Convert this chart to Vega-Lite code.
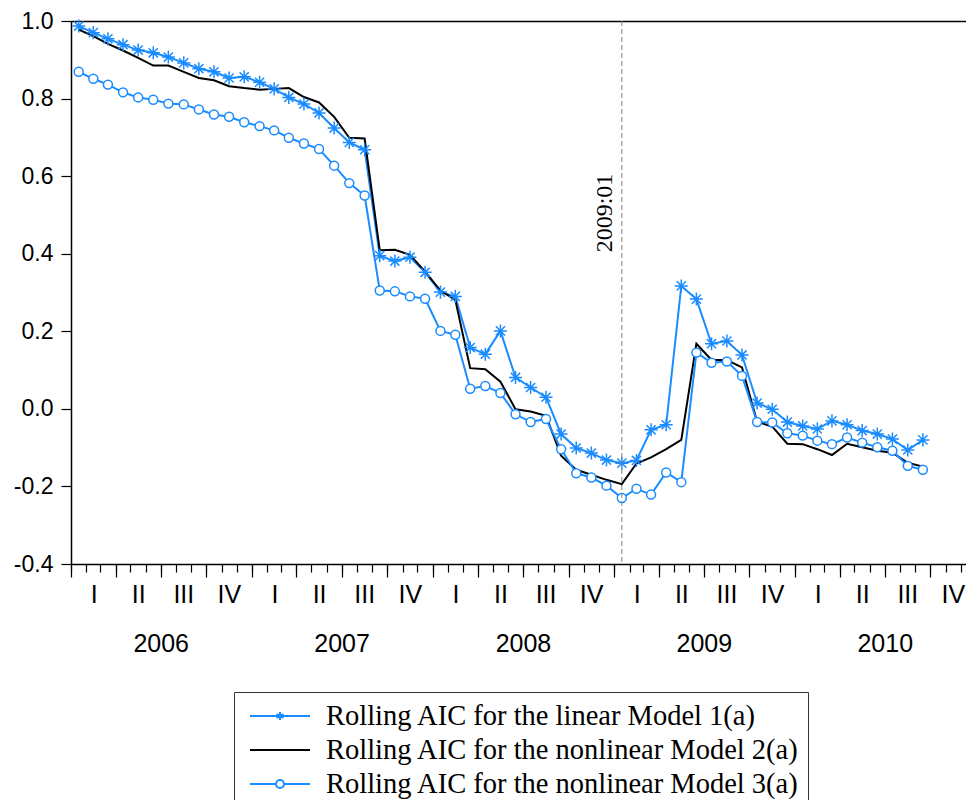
{
  "$schema": "https://vega.github.io/schema/vega-lite/v6.json",
  "width": 895,
  "height": 543,
  "autosize": {"type": "none"},
  "padding": {"left": 71, "top": 21, "right": 0, "bottom": 236},
  "background": "white",
  "datasets": {
    "marker": [{"date": "2009-01", "label": "2009:01"}]
  },
  "data": {
    "values": [
      {"date": "2006-01", "m1": 0.987, "m2": 0.978, "m3": 0.869},
      {"date": "2006-02", "m1": 0.970, "m2": 0.961, "m3": 0.851},
      {"date": "2006-03", "m1": 0.954, "m2": 0.941, "m3": 0.836},
      {"date": "2006-04", "m1": 0.939, "m2": 0.924, "m3": 0.816},
      {"date": "2006-05", "m1": 0.925, "m2": 0.905, "m3": 0.803},
      {"date": "2006-06", "m1": 0.918, "m2": 0.885, "m3": 0.797},
      {"date": "2006-07", "m1": 0.907, "m2": 0.885, "m3": 0.787},
      {"date": "2006-08", "m1": 0.892, "m2": 0.869, "m3": 0.785},
      {"date": "2006-09", "m1": 0.877, "m2": 0.853, "m3": 0.772},
      {"date": "2006-10", "m1": 0.869, "m2": 0.847, "m3": 0.759},
      {"date": "2006-11", "m1": 0.853, "m2": 0.832, "m3": 0.753},
      {"date": "2006-12", "m1": 0.856, "m2": 0.827, "m3": 0.739},
      {"date": "2007-01", "m1": 0.842, "m2": 0.823, "m3": 0.729},
      {"date": "2007-02", "m1": 0.825, "m2": 0.825, "m3": 0.718},
      {"date": "2007-03", "m1": 0.803, "m2": 0.827, "m3": 0.699},
      {"date": "2007-04", "m1": 0.786, "m2": 0.804, "m3": 0.684},
      {"date": "2007-05", "m1": 0.763, "m2": 0.790, "m3": 0.670},
      {"date": "2007-06", "m1": 0.724, "m2": 0.753, "m3": 0.627},
      {"date": "2007-07", "m1": 0.687, "m2": 0.699, "m3": 0.582},
      {"date": "2007-08", "m1": 0.668, "m2": 0.697, "m3": 0.550},
      {"date": "2007-09", "m1": 0.395, "m2": 0.409, "m3": 0.305},
      {"date": "2007-10", "m1": 0.381, "m2": 0.410, "m3": 0.303},
      {"date": "2007-11", "m1": 0.391, "m2": 0.397, "m3": 0.290},
      {"date": "2007-12", "m1": 0.352, "m2": 0.354, "m3": 0.284},
      {"date": "2008-01", "m1": 0.301, "m2": 0.305, "m3": 0.201},
      {"date": "2008-02", "m1": 0.290, "m2": 0.281, "m3": 0.191},
      {"date": "2008-03", "m1": 0.158, "m2": 0.105, "m3": 0.052},
      {"date": "2008-04", "m1": 0.141, "m2": 0.102, "m3": 0.059},
      {"date": "2008-05", "m1": 0.201, "m2": 0.070, "m3": 0.041},
      {"date": "2008-06", "m1": 0.081, "m2": -0.001, "m3": -0.014},
      {"date": "2008-07", "m1": 0.055, "m2": -0.007, "m3": -0.034},
      {"date": "2008-08", "m1": 0.030, "m2": -0.018, "m3": -0.026},
      {"date": "2008-09", "m1": -0.065, "m2": -0.121, "m3": -0.104},
      {"date": "2008-10", "m1": -0.101, "m2": -0.157, "m3": -0.166},
      {"date": "2008-11", "m1": -0.114, "m2": -0.170, "m3": -0.177},
      {"date": "2008-12", "m1": -0.132, "m2": -0.183, "m3": -0.198},
      {"date": "2009-01", "m1": -0.140, "m2": -0.194, "m3": -0.230},
      {"date": "2009-02", "m1": -0.133, "m2": -0.141, "m3": -0.206},
      {"date": "2009-03", "m1": -0.054, "m2": -0.125, "m3": -0.221},
      {"date": "2009-04", "m1": -0.041, "m2": -0.104, "m3": -0.164},
      {"date": "2009-05", "m1": 0.317, "m2": -0.080, "m3": -0.189},
      {"date": "2009-06", "m1": 0.283, "m2": 0.168, "m3": 0.145},
      {"date": "2009-07", "m1": 0.168, "m2": 0.126, "m3": 0.119},
      {"date": "2009-08", "m1": 0.175, "m2": 0.126, "m3": 0.122},
      {"date": "2009-09", "m1": 0.139, "m2": 0.107, "m3": 0.085},
      {"date": "2009-10", "m1": 0.015, "m2": -0.033, "m3": -0.034},
      {"date": "2009-11", "m1": -0.001, "m2": -0.046, "m3": -0.035},
      {"date": "2009-12", "m1": -0.034, "m2": -0.090, "m3": -0.063},
      {"date": "2010-01", "m1": -0.044, "m2": -0.091, "m3": -0.069},
      {"date": "2010-02", "m1": -0.052, "m2": -0.104, "m3": -0.082},
      {"date": "2010-03", "m1": -0.031, "m2": -0.119, "m3": -0.091},
      {"date": "2010-04", "m1": -0.041, "m2": -0.090, "m3": -0.074},
      {"date": "2010-05", "m1": -0.056, "m2": -0.099, "m3": -0.087},
      {"date": "2010-06", "m1": -0.065, "m2": -0.108, "m3": -0.099},
      {"date": "2010-07", "m1": -0.078, "m2": -0.113, "m3": -0.108},
      {"date": "2010-08", "m1": -0.106, "m2": -0.139, "m3": -0.147},
      {"date": "2010-09", "m1": -0.080, "m2": -0.149, "m3": -0.157}
    ]
  },
  "transform": [{"fold": ["m1", "m2", "m3"], "as": ["series", "value"]}],
  "resolve": {"axis": {"x": "independent"}},
  "layer": [
    {
      "mark": {"type": "line", "strokeWidth": 2},
      "encoding": {
        "x": {
          "field": "date", "type": "temporal", "timeUnit": "utcyearmonth", "bandPosition": 0.5,
          "scale": {"domain": [{"year": 2006, "month": 1, "date": 1, "utc": true}, {"year": 2010, "month": 12, "date": 12, "utc": true}]},
          "axis": {
            "orient": "bottom", "title": null, "tickCount": {"interval": "month", "step": 1},
            "tickSize": 8, "tickWidth": 1.2, "tickColor": "black",
            "domain": true, "domainColor": "black", "domainWidth": 1.5, "grid": false,
            "labelExpr": "utcmonth(datum.value) == 6 ? utcFormat(datum.value, '%Y') : ''",
            "labelPadding": 59, "labelFlush": false, "labelOverlap": false,
            "labelFont": "Liberation Sans", "labelFontSize": 25, "labelColor": "black"
          }
        },
        "y": {
          "field": "value", "type": "quantitative",
          "scale": {"domain": [-0.4, 1.0], "nice": false, "zero": false},
          "axis": {
            "title": null, "values": [-0.4, -0.2, 0, 0.2, 0.4, 0.6, 0.8, 1.0],
            "labelExpr": "datum.value < 0 ? '-' + format(-datum.value, '.1f') : format(datum.value, '.1f')",
            "tickSize": 10, "tickWidth": 1.2, "tickColor": "black", "labelPadding": 8,
            "labelFont": "Liberation Sans", "labelFontSize": 23, "labelColor": "black",
            "domainColor": "black", "domainWidth": 1.5, "grid": false
          }
        },
        "color": {
          "field": "series", "type": "nominal",
          "scale": {"domain": ["m2", "m1", "m3"], "range": ["#000000", "#1a8cff", "#1a8cff"]},
          "legend": null
        }
      }
    },
    {
      "transform": [{"filter": "datum.series == 'm1'"}],
      "mark": {
        "type": "point", "shape": "M0,-1V1M-1,0H1M-0.7,-0.7L0.7,0.7M-0.7,0.7L0.7,-0.7",
        "size": 170, "stroke": "#1a8cff", "strokeWidth": 1.5, "filled": false, "opacity": 1
      },
      "encoding": {
        "x": {
          "field": "date", "type": "temporal", "timeUnit": "utcyearmonth", "bandPosition": 0.5,
          "axis": {
            "orient": "bottom", "title": null, "tickCount": {"interval": "month", "step": 3},
            "tickSize": 13, "tickWidth": 1.2, "tickColor": "black", "domain": false, "grid": false,
            "labelExpr": "['I','','','II','','','III','','','IV','',''][utcmonth(datum.value)]",
            "labelOffset": 22.6, "labelPadding": 5, "labelFlush": false, "labelOverlap": false,
            "labelFont": "Liberation Sans Narrow, Liberation Sans", "labelFontSize": 25, "labelColor": "black"
          }
        },
        "y": {"field": "value", "type": "quantitative"}
      }
    },
    {
      "transform": [{"filter": "datum.series == 'm3'"}],
      "mark": {
        "type": "point", "shape": "circle", "size": 80, "fill": "white", "filled": true,
        "stroke": "#1a8cff", "strokeWidth": 1.5, "opacity": 1
      },
      "encoding": {
        "x": {"field": "date", "type": "temporal", "timeUnit": "utcyearmonth", "bandPosition": 0.5, "axis": null},
        "y": {"field": "value", "type": "quantitative"}
      }
    },
    {
      "transform": [{"filter": "datum.series == 'm1'"}],
      "mark": {"type": "point", "filled": true, "fill": "white", "strokeWidth": 2, "opacity": 0},
      "encoding": {
        "x": {"field": "date", "type": "temporal", "timeUnit": "utcyearmonth", "bandPosition": 0.5, "axis": null},
        "y": {"field": "value", "type": "quantitative"},
        "stroke": {
          "field": "series", "type": "nominal",
          "scale": {"domain": ["m1", "m2", "m3"], "range": ["#1a8cff", "#000000", "#1a8cff"]}
        },
        "shape": {
          "field": "series", "type": "nominal",
          "scale": {
            "domain": ["m1", "m2", "m3"],
            "range": [
              "M-2,0H2M0,-0.27V0.27M-0.23,-0.13L0.23,0.13M-0.23,0.13L0.23,-0.13",
              "M-2,0H2",
              "M-2,0H-0.27M0.27,0H2M0.27,0A0.27,0.27,0,1,1,-0.27,0A0.27,0.27,0,1,1,0.27,0Z"
            ]
          },
          "legend": {
            "title": null, "orient": "none", "legendX": 163, "legendY": 671, "direction": "vertical",
            "strokeColor": "#333333", "padding": 8, "symbolOffset": 22, "symbolSize": 900,
            "symbolStrokeWidth": 2, "symbolOpacity": 1, "symbolFillColor": "white",
            "labelFont": "Liberation Serif", "labelFontSize": 28.5,
            "labelColor": "black", "labelOffset": 30, "labelLimit": 1000, "rowPadding": 3,
            "labelExpr": "datum.label == 'm1' ? 'Rolling AIC for the linear Model 1(a)' : datum.label == 'm2' ? 'Rolling AIC for the nonlinear Model 2(a)' : 'Rolling AIC for the nonlinear Model 3(a)'"
          }
        }
      }
    },
    {
      "data": {"name": "marker"},
      "mark": {"type": "rule", "color": "#808080", "strokeWidth": 1, "strokeDash": [5, 3]},
      "encoding": {
        "x": {
          "field": "date", "type": "temporal", "timeUnit": "utcyearmonth", "bandPosition": 0.5,
          "axis": {
            "orient": "top", "title": null, "ticks": false, "labels": false, "grid": false,
            "domain": true, "domainColor": "black", "domainWidth": 1.5
          }
        }
      }
    },
    {
      "data": {"name": "marker"},
      "mark": {
        "type": "text", "style": "serifnote", "angle": 270, "align": "center", "baseline": "bottom", "dy": -5,
        "font": "Liberation Serif, Times New Roman, serif", "fontSize": 24, "color": "black"
      },
      "encoding": {
        "x": {"field": "date", "type": "temporal", "timeUnit": "utcyearmonth", "bandPosition": 0.5, "axis": null},
        "y": {"datum": 0.505, "type": "quantitative"},
        "text": {"field": "label"}
      }
    }
  ],
  "config": {
    "view": {"stroke": null},
    "axis": {"grid": false},
    "style": {"serifnote": {"font": "Liberation Serif, Times New Roman, serif"}}
  }
}
